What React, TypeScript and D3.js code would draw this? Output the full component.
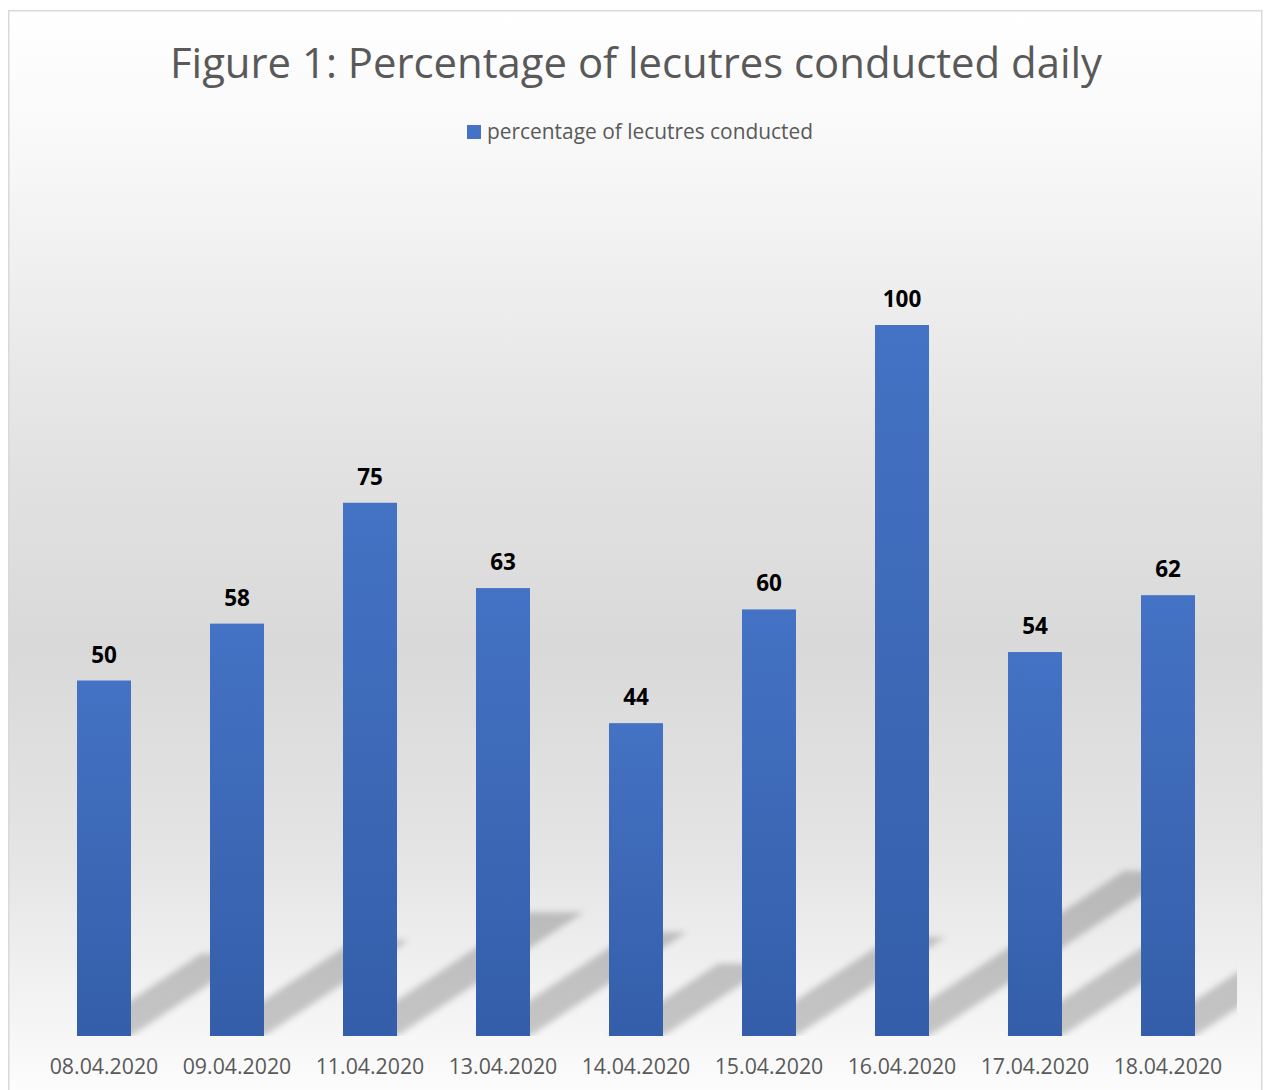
import React from "react";
import * as d3 from "d3";

const categories = ["08.04.2020", "09.04.2020", "11.04.2020", "13.04.2020", "14.04.2020", "15.04.2020", "16.04.2020", "17.04.2020", "18.04.2020"];
const values = [50, 58, 75, 63, 44, 60, 100, 54, 62];
const seriesName = "percentage of lecutres conducted";
const titleText = "Figure 1: Percentage of lecutres conducted daily";

const W = 1264;
const H = 1090;
const plot = { left: 37.5, right: 1234.5, bottom: 1036, top: 325 };
const FONT = "'Open Sans', 'DejaVu Sans', sans-serif";

export default function App() {
  const x = d3.scaleBand<string>().domain(categories).range([plot.left, plot.right]).paddingInner(0.594).paddingOuter(0.297);
  const y = d3.scaleLinear().domain([0, 100]).range([plot.bottom, plot.top]);
  const bw = x.bandwidth();
  const kx = 0.35;
  const ky = 0.232;

  return (
    <svg width={W} height={H} style={{ position: "absolute", left: 0, top: 0 }} xmlns="http://www.w3.org/2000/svg">
      <defs>
        <linearGradient id="bg" gradientUnits="userSpaceOnUse" x1="0" y1="10" x2="0" y2="1090">
          <stop offset="0" stopColor="#ffffff" />
          <stop offset="0.13" stopColor="#f8f8f8" />
          <stop offset="0.4" stopColor="#e3e3e3" />
          <stop offset="0.59" stopColor="#d9d9d9" />
          <stop offset="0.78" stopColor="#e4e4e4" />
          <stop offset="0.92" stopColor="#f3f3f3" />
          <stop offset="1" stopColor="#fcfcfc" />
        </linearGradient>
        <linearGradient id="bar" x1="0" y1="0" x2="0" y2="1">
          <stop offset="0" stopColor="#4472c4" />
          <stop offset="1" stopColor="#345ea9" />
        </linearGradient>
        <filter id="blur" x="-20%" y="-20%" width="140%" height="140%">
          <feGaussianBlur stdDeviation="3" />
        </filter>
        <clipPath id="plotClip">
          <rect x={plot.left} y={0} width={1237 - plot.left} height={plot.bottom} />
        </clipPath>
      </defs>
      <rect x={0} y={0} width={W} height={H} fill="#ffffff" />
      <rect x={8.75} y={10.75} width={1253} height={1090} fill="url(#bg)" stroke="#d9d9d9" strokeWidth={1.5} />

      <text x={636} y={78} textAnchor="middle" fontFamily={FONT} fontSize={42} fill="#595959" textLength={932} lengthAdjust="spacingAndGlyphs">
        {titleText}
      </text>

      <rect x={467} y={125} width={14} height={14} fill="#4472c4" />
      <text x={487} y={139} fontFamily={FONT} fontSize={21} fill="#595959" textLength={326} lengthAdjust="spacingAndGlyphs">
        {seriesName}
      </text>

      <g clipPath="url(#plotClip)">
        <g filter="url(#blur)" fill="#000" fillOpacity={0.2}>
          {categories.map((c, i) => {
            const x0 = x(c)!;
            const h = plot.bottom - y(values[i]);
            const dx = kx * h;
            const dy = ky * h;
            const path = d3.path();
            path.moveTo(x0, plot.bottom);
            path.lineTo(x0 + bw, plot.bottom);
            path.lineTo(x0 + bw + dx, plot.bottom - dy);
            path.lineTo(x0 + dx, plot.bottom - dy);
            path.closePath();
            return <path key={c} d={path.toString()} />;
          })}
        </g>
      </g>

      {categories.map((c, i) => (
        <rect key={c} x={x(c)} y={y(values[i])} width={bw} height={plot.bottom - y(values[i])} fill="url(#bar)" />
      ))}

      {categories.map((c, i) => (
        <text key={c} x={x(c)! + bw / 2} y={y(values[i]) - 18} textAnchor="middle" fontFamily={FONT} fontWeight="bold" fontSize={22.5} fill="#000000">
          {values[i]}
        </text>
      ))}

      {categories.map((c) => (
        <text key={c} x={x(c)! + bw / 2} y={1074} textAnchor="middle" fontFamily={FONT} fontSize={21.3} fill="#595959">
          {c}
        </text>
      ))}
    </svg>
  );
}
